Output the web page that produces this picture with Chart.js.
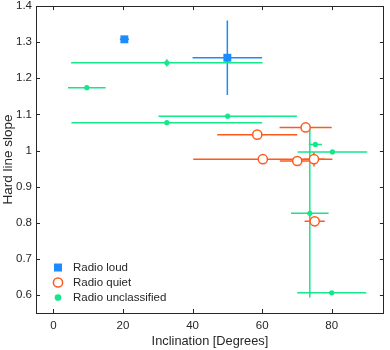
<!DOCTYPE html>
<html>
<head>
<meta charset="utf-8">
<script src="https://cdn.jsdelivr.net/npm/chart.js@4"></script>
<style>body{margin:0;background:#fff}</style>
</head>
<body>
<canvas id="chart" width="390" height="350"></canvas>
<script>
const xTicks = [0, 20, 40, 60, 80];
const yTicks = [0.6, 0.7, 0.8, 0.9, 1.0, 1.1, 1.2, 1.3, 1.4];

// Radio loud
const loudX = [20.4, 50.0];
const loudY = [1.308, 1.257];
const loudXErr = [1.3, 10.0];
const loudYErr = [0.006, 0.103];

// Radio quiet
const quietX = [72.5, 58.6, 60.2, 70.1, 74.9, 75.1];
const quietY = [1.064, 1.044, 0.976, 0.971, 0.976, 0.804];
const quietXErr = [7.5, 11.5, 20.0, 5.0, 3.0, 2.9];
const quietYErr = [0.005, 0.01, 0.005, 0.005, 0.02, 0.01];

// Radio unclassified
const uncX = [32.6, 9.6, 32.6, 50.1, 75.3, 80.2, 73.7, 80.0];
const uncY = [1.243, 1.174, 1.077, 1.095, 1.017, 0.996, 0.826, 0.606];
const uncXErr = [27.5, 5.4, 27.4, 19.9, 1.9, 10.0, 5.4, 9.9];
const uncYErr = [0.01, 0.003, 0.004, 0.003, 0.004, 0.003, 0.233, 0.003];

const blue = '#1a8cff';
const orange = '#ff5a1e';
const green = '#14e68c';
const axisColor = '#262626';
const font = "'Liberation Sans', Arial, sans-serif";

function points(xs, ys, xe, ye) {
    return xs.map((v, i) => ({x: v, y: ys[i], xErr: xe[i], yErr: ye[i]}));
}

const errorBars = {
    id: 'errorBars',
    beforeDatasetsDraw(chart) {
        const {ctx, chartArea: a, scales: {x, y}} = chart;
        ctx.save();
        ctx.beginPath();
        ctx.rect(a.left, a.top, a.right - a.left, a.bottom - a.top);
        ctx.clip();
        ctx.lineWidth = 1.5;
        chart.data.datasets.forEach(ds => {
            ctx.strokeStyle = ds.borderColor;
            ds.data.forEach(p => {
                const px = x.getPixelForValue(p.x);
                const py = y.getPixelForValue(p.y);
                ctx.beginPath();
                ctx.moveTo(x.getPixelForValue(p.x - p.xErr), py);
                ctx.lineTo(x.getPixelForValue(p.x + p.xErr), py);
                ctx.moveTo(px, y.getPixelForValue(p.y - p.yErr));
                ctx.lineTo(px, y.getPixelForValue(p.y + p.yErr));
                ctx.stroke();
            });
        });
        ctx.restore();
    }
};

// box around the plot with inward ticks on all sides
const frame = {
    id: 'frame',
    afterDraw(chart) {
        const {ctx, chartArea: a, scales: {x, y}} = chart;
        const len = 4;
        ctx.save();
        ctx.strokeStyle = axisColor;
        ctx.lineWidth = 1;
        ctx.beginPath();
        x.ticks.forEach(t => {
            const px = Math.round(x.getPixelForValue(t.value)) + 0.5;
            ctx.moveTo(px, a.bottom); ctx.lineTo(px, a.bottom - len);
            ctx.moveTo(px, a.top); ctx.lineTo(px, a.top + len);
        });
        y.ticks.forEach(t => {
            const py = Math.round(y.getPixelForValue(t.value)) + 0.5;
            ctx.moveTo(a.left, py); ctx.lineTo(a.left + len, py);
            ctx.moveTo(a.right, py); ctx.lineTo(a.right - len, py);
        });
        ctx.stroke();
        ctx.strokeRect(Math.round(a.left) + 0.5, Math.round(a.top) + 0.5,
            Math.round(a.right - a.left) - 1, Math.round(a.bottom - a.top));
        ctx.restore();
    }
};

const legendBox = {
    id: 'legendBox',
    afterDraw(chart) {
        const {ctx, chartArea: a} = chart;
        const x0 = a.left + 22, y0 = 267.5, gap = 15;
        ctx.save();
        ctx.font = '11.5px ' + font;
        ctx.textBaseline = 'middle';
        chart.data.datasets.forEach((ds, i) => {
            const cy = y0 + i * gap;
            ctx.lineWidth = 1.5;
            ctx.strokeStyle = ds.borderColor;
            ctx.fillStyle = ds.backgroundColor;
            if (ds.pointStyle === 'rect') {
                ctx.fillRect(x0 - 4, cy - 4, 8, 8);
            } else {
                ctx.beginPath();
                ctx.arc(x0, cy, ds.pointRadius, 0, Math.PI * 2);
                ctx.fill();
                ctx.stroke();
            }
            ctx.fillStyle = axisColor;
            ctx.fillText(ds.label, x0 + 15, cy + 0.5);
        });
        ctx.restore();
    }
};

new Chart(document.getElementById('chart'), {
    type: 'scatter',
    data: {
        datasets: [{
            label: 'Radio loud',
            data: points(loudX, loudY, loudXErr, loudYErr),
            pointStyle: 'rect',
            pointRadius: 5.6,
            backgroundColor: blue,
            borderColor: blue,
            borderWidth: 0,
        }, {
            label: 'Radio quiet',
            data: points(quietX, quietY, quietXErr, quietYErr),
            pointStyle: 'circle',
            pointRadius: 4.6,
            backgroundColor: '#ffffff',
            borderColor: orange,
            borderWidth: 1.5,
        }, {
            label: 'Radio unclassified',
            data: points(uncX, uncY, uncXErr, uncYErr),
            pointStyle: 'circle',
            pointRadius: 2.6,
            backgroundColor: green,
            borderColor: green,
            borderWidth: 0,
        }]
    },
    options: {
        responsive: false,
        animation: false,
        layout: {
            padding: {top: 4, right: 1, left: 0, bottom: 0}
        },
        scales: {
            x: {
                type: 'linear',
                min: -5,
                max: 95,
                afterBuildTicks: s => { s.ticks = xTicks.map(v => ({value: v})); },
                afterFit: s => { s.height = 37; s.paddingLeft = 0; s.paddingRight = 0; },
                grid: {display: false, drawTicks: false},
                border: {display: false},
                ticks: {
                    color: axisColor,
                    padding: 6,
                    maxRotation: 0,
                    font: {family: font, size: 11.5},
                },
                title: {
                    display: true,
                    text: 'Inclination [Degrees]',
                    color: axisColor,
                    padding: {top: 0, bottom: 1},
                    font: {family: font, size: 12.8},
                }
            },
            y: {
                min: 0.55,
                max: 1.4,
                afterBuildTicks: s => { s.ticks = yTicks.map(v => ({value: v})); },
                afterFit: s => { s.width = 36; s.paddingTop = 0; s.paddingBottom = 0; },
                grid: {display: false, drawTicks: false},
                border: {display: false},
                ticks: {
                    color: axisColor,
                    padding: 4,
                    font: {family: font, size: 11.5},
                    callback: v => String(Math.round(v * 10) / 10),
                },
                title: {
                    display: true,
                    text: 'Hard line slope',
                    color: axisColor,
                    padding: {top: 0, bottom: 0},
                    font: {family: font, size: 13.5},
                }
            }
        },
        plugins: {
            legend: {display: false},
            tooltip: {enabled: false},
        }
    },
    plugins: [errorBars, frame, legendBox]
});
</script>
</body>
</html>
